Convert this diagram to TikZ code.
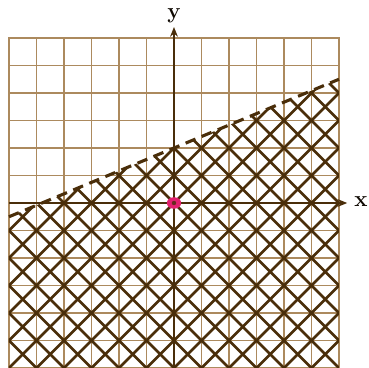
\documentclass[tikz,border=0pt]{standalone}
\usetikzlibrary{arrows.meta,shapes.geometric}
\definecolor{gridtan}{RGB}{172,138,94}
\definecolor{hatchbrown}{RGB}{74,46,10}
\definecolor{dotpink}{RGB}{226,32,110}
\tikzset{
  gridline/.style={draw=gridtan, line width=1.2pt},
  hatchline/.style={draw=hatchbrown, line width=2.6pt},
  axisline/.style={draw=hatchbrown, line width=2.2pt, -{Stealth[length=10pt,width=8pt]}},
  boundary/.style={draw=hatchbrown, line width=3.2pt, dash pattern=on 11pt off 7pt},
  axislabel/.style={font=\fontsize{23}{23}\selectfont\bfseries, text=black!80!hatchbrown, inner sep=0pt},
  pinkdot/.style={fill=dotpink, ellipse, minimum width=0.52cm, minimum height=0.42cm, inner sep=0pt},
  dotcore/.style={fill=hatchbrown!80!dotpink, circle, minimum size=0.16cm, inner sep=0pt}
}
\begin{document}
\begin{tikzpicture}
\useasboundingbox (-6.327,-6) rectangle (7.055,7.382);
% grid
\draw[gridline] (-6,-6) grid (6,6);
\draw[gridline] (-6,-6) rectangle (6,6);
% hatched region below the dashed line
\begin{scope}
  \clip (-6,-6) -- (6,-6) -- (6,4.5) -- (-6,-0.5) -- cycle;
  \foreach \k in {-12,...,12} {
    \draw[hatchline] (\k-7,-7) -- (\k+7,7);
    \draw[hatchline] (\k-7,7) -- (\k+7,-7);
  }
\end{scope}
% dashed boundary line
\coordinate (bl) at (-6,-0.5);
\coordinate (br) at (6,4.5);
\draw[boundary] (bl) -- (br);
% axes
\coordinate (xs) at (-6,0);
\coordinate (xe) at (6.3,0);
\coordinate (ys) at (0,-6);
\coordinate (ye) at (0,6.4);
\draw[axisline] (xs) -- (xe);
\draw[axisline] (ys) -- (ye);
\node[axislabel] (xlab) at (6.8,0.07) {x};
\node[axislabel] (ylab) at (0,6.8) {y};
% point at the origin
\node[pinkdot] (dot) at (0,0) {};
\node[dotcore] (core) at (0,0) {};
\end{tikzpicture}
\end{document}
